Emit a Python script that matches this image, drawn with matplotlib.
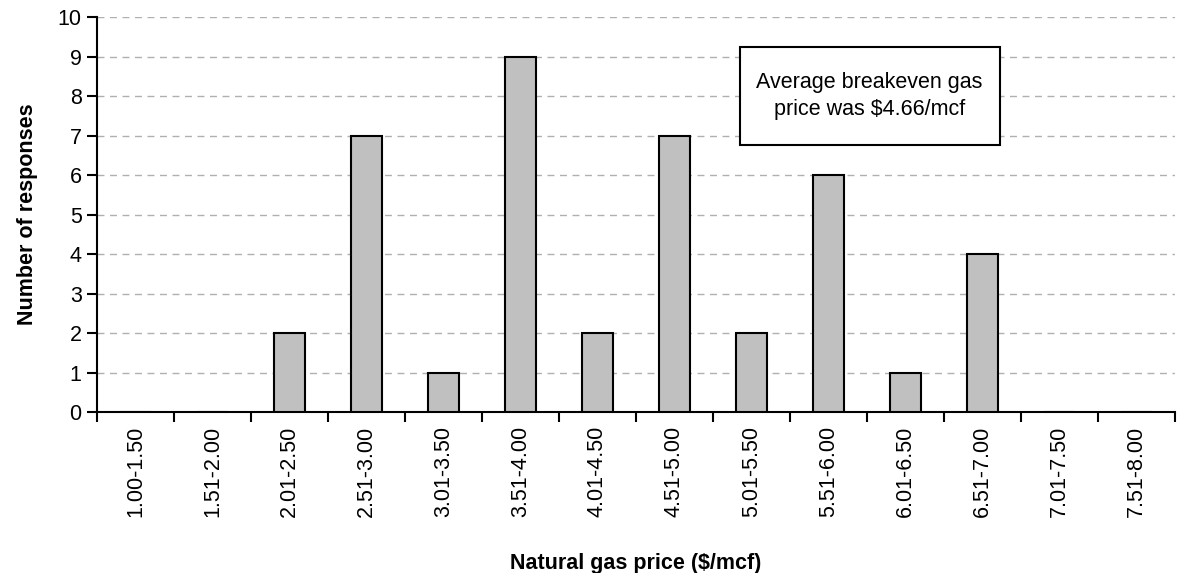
import matplotlib
matplotlib.use("Agg")
import matplotlib.pyplot as plt
from matplotlib.patches import Rectangle
import numpy as np

# price bins ($/mcf) and number of survey responses in each
price_bins = ["1.00-1.50", "1.51-2.00", "2.01-2.50", "2.51-3.00", "3.01-3.50",
              "3.51-4.00", "4.01-4.50", "4.51-5.00", "5.01-5.50", "5.51-6.00",
              "6.01-6.50", "6.51-7.00", "7.01-7.50", "7.51-8.00"]
responses = [0, 0, 2, 7, 1, 9, 2, 7, 2, 6, 1, 4, 0, 0]
note = "Average breakeven gas\nprice was $4.66/mcf"

plt.rcParams["font.family"] = ["Liberation Sans", "DejaVu Sans"]
FS = 15.5

fig = plt.figure(figsize=(11.77, 5.73), dpi=100)
ax = fig.add_axes([0.0824, 0.281, 0.9156, 0.689])

x = np.arange(len(price_bins))
ax.bar(x, responses, width=0.4, color="#c0c0c0", edgecolor="black",
       linewidth=1.5, zorder=3)

ax.set_xlim(-0.5, len(price_bins) - 0.5)
ax.set_ylim(0, 10)
ax.set_yticks(range(0, 11))
ax.yaxis.grid(True, linestyle=(0, (5, 4)), color="#b0b0b0", linewidth=1, zorder=0)

# category labels centred, tick marks on the category boundaries
ax.set_xticks(x)
ax.set_xticklabels(price_bins, rotation=90, fontsize=FS)
ax.tick_params(axis="x", which="major", length=0, pad=10)
ax.set_xticks(np.arange(-0.5, len(price_bins) + 0.5), minor=True)
ax.tick_params(axis="x", which="minor", length=7, width=1.5, direction="out")
ax.tick_params(axis="y", length=7, width=1.5, labelsize=FS, pad=4)

for side in ["top", "right"]:
    ax.spines[side].set_visible(False)
for side in ["left", "bottom"]:
    ax.spines[side].set_linewidth(1.5)

ax.set_xlabel("Natural gas price ($/mcf)", fontsize=FS, fontweight="bold", labelpad=26)
ax.set_ylabel("Number of responses", fontsize=FS, fontweight="bold", labelpad=14)

# annotation box
box = Rectangle((0.5965, 0.676), 0.2412, 0.248, transform=ax.transAxes,
                facecolor="white", edgecolor="black", linewidth=1.5, zorder=5)
ax.add_patch(box)
ax.text(0.717, 0.80, note, transform=ax.transAxes, ha="center", va="center",
        fontsize=FS, linespacing=1.4, zorder=6)

fig.savefig("out.png", dpi=100)
plt.close(fig)
